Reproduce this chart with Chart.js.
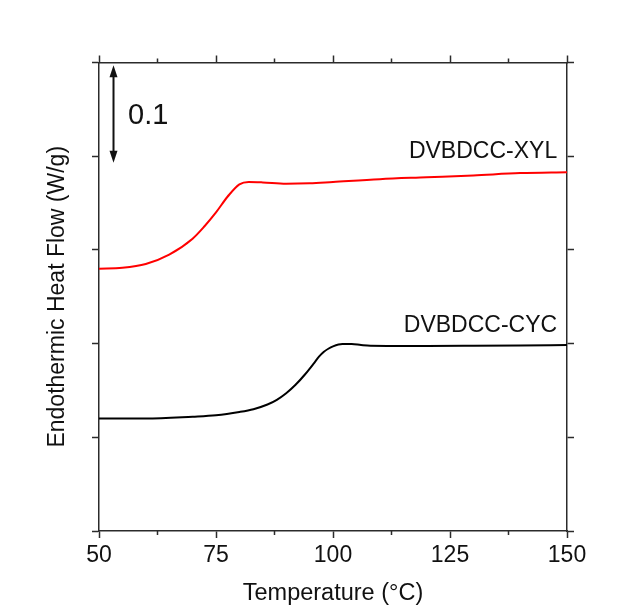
<!DOCTYPE html>
<html>
<head>
<meta charset="utf-8">
<script src="https://cdn.jsdelivr.net/npm/chart.js@4"></script>
<style>
  html, body { margin: 0; padding: 0; background: #fff; }
  #wrap { width: 623px; height: 611px; }
</style>
</head>
<body>
<div id="wrap"><canvas id="dsc"></canvas></div>
<script>
/* ================= DATA ================= */
const xylTemp = [50, 55, 60, 65, 70, 72.5, 75, 77.5, 80, 82, 85, 90, 95, 100, 110, 120, 130, 140, 150];
const xylFlow = [0.280, 0.281, 0.285, 0.295, 0.312, 0.325, 0.340, 0.357, 0.370, 0.3725, 0.372, 0.3705, 0.371, 0.3725, 0.3755, 0.3775, 0.3795, 0.382, 0.383];

const cycTemp = [50, 60, 70, 75, 80, 83, 86, 88, 90, 92, 94, 96, 97, 98, 99, 100, 102, 104, 106, 108, 120, 130, 140, 150];
const cycFlow = [0.120, 0.120, 0.122, 0.1235, 0.127, 0.130, 0.135, 0.140, 0.147, 0.156, 0.167, 0.1795, 0.186, 0.191, 0.1945, 0.197, 0.1995, 0.1995, 0.1985, 0.1978, 0.1975, 0.1977, 0.198, 0.1985];

const xTicks = [50, 75, 100, 125, 150];
const xMinorTicks = [62.5, 87.5, 112.5, 137.5];
const seriesNames = ["DVBDCC-XYL", "DVBDCC-CYC"];

const toPoints = (xs, ys) => xs.map((x, i) => ({ x: x, y: ys[i] }));

/* ================= STYLE ================= */
const FONT = "'Liberation Sans', Arial, sans-serif";
const AXIS = "#2b2b2b";

/* ================= ANNOTATIONS ================= */
// minor ticks on the top and bottom axes + labels + 0.1 scale arrow
const annotate = {
  id: "annotate",
  afterDraw(chart) {
    const ctx = chart.ctx;
    const xs = chart.scales.x;
    const ys = chart.scales.y;
    const area = chart.chartArea;

    ctx.save();
    ctx.strokeStyle = AXIS;
    ctx.lineWidth = 1.5;
    xMinorTicks.forEach(v => {
      const px = xs.getPixelForValue(v);
      ctx.beginPath();
      ctx.moveTo(px, area.bottom);
      ctx.lineTo(px, area.bottom + 4);
      ctx.moveTo(px, area.top);
      ctx.lineTo(px, area.top - 4);
      ctx.stroke();
    });

    // series labels
    ctx.fillStyle = "#111";
    ctx.font = "23px " + FONT;
    ctx.textAlign = "right";
    ctx.textBaseline = "middle";
    ctx.fillText(seriesNames[0], xs.getPixelForValue(147.9), ys.getPixelForValue(0.405));
    ctx.fillText(seriesNames[1], xs.getPixelForValue(147.9), ys.getPixelForValue(0.219));

    // scale bar
    ctx.font = "29px " + FONT;
    ctx.textAlign = "left";
    ctx.fillText("0.1", xs.getPixelForValue(56.2), ys.getPixelForValue(0.443));

    const ax = xs.getPixelForValue(53.1);
    const top = ys.getPixelForValue(0.497);
    const bot = ys.getPixelForValue(0.393);
    ctx.strokeStyle = "#111";
    ctx.fillStyle = "#111";
    ctx.lineWidth = 2;
    ctx.beginPath();
    ctx.moveTo(ax, top + 8);
    ctx.lineTo(ax, bot - 8);
    ctx.stroke();
    ctx.beginPath();
    ctx.moveTo(ax, top);
    ctx.lineTo(ax - 4, top + 12);
    ctx.lineTo(ax + 4, top + 12);
    ctx.closePath();
    ctx.fill();
    ctx.beginPath();
    ctx.moveTo(ax, bot);
    ctx.lineTo(ax - 4, bot - 12);
    ctx.lineTo(ax + 4, bot - 12);
    ctx.closePath();
    ctx.fill();
    ctx.restore();
  }
};

/* ================= CHART ================= */
const frameAxis = (position, size) => ({
  position: position,
  grid: { drawOnChartArea: false, tickLength: 7, tickColor: AXIS, tickWidth: 1.5 },
  border: { color: AXIS, width: 1.5 },
  ticks: { display: false },
  afterFit(scale) {
    if (scale.isHorizontal()) scale.height = size; else scale.width = size;
  }
});

new Chart(document.getElementById("dsc"), {
  type: "line",
  data: {
    datasets: [
      {
        label: seriesNames[0],
        data: toPoints(xylTemp, xylFlow),
        borderColor: "#ff0000",
        borderWidth: 2,
        pointRadius: 0,
        cubicInterpolationMode: "monotone",
        xAxisID: "x",
        yAxisID: "y"
      },
      {
        label: seriesNames[1],
        data: toPoints(cycTemp, cycFlow),
        borderColor: "#000000",
        borderWidth: 2,
        pointRadius: 0,
        cubicInterpolationMode: "monotone",
        xAxisID: "x",
        yAxisID: "y"
      }
    ]
  },
  options: {
    responsive: true,
    maintainAspectRatio: false,
    animation: false,
    layout: { padding: 0 },
    plugins: {
      legend: { display: false },
      tooltip: { enabled: false }
    },
    scales: {
      x: {
        type: "linear",
        position: "bottom",
        min: 50,
        max: 150,
        afterBuildTicks(scale) {
          scale.ticks = xTicks.map(v => ({ value: v }));
        },
        ticks: { color: "#111", font: { family: FONT, size: 23 }, padding: 4, maxRotation: 0 },
        grid: { drawOnChartArea: false, tickLength: 7, tickColor: AXIS, tickWidth: 1.5 },
        border: { color: AXIS, width: 1.5 },
        title: {
          display: true,
          text: "Temperature (°C)",
          color: "#111",
          font: { family: FONT, size: 23.5 },
          padding: { top: 0, bottom: 3 }
        },
        afterFit(scale) { scale.height = 80; }
      },
      x2: Object.assign(frameAxis("top", 62.5), {
        type: "linear",
        min: 50,
        max: 150,
        afterBuildTicks(scale) {
          scale.ticks = xTicks.map(v => ({ value: v }));
        }
      }),
      y: {
        type: "linear",
        position: "left",
        min: 0,
        max: 0.5,
        ticks: { display: false, stepSize: 0.1 },
        grid: { drawOnChartArea: false, tickLength: 7, tickColor: AXIS, tickWidth: 1.5 },
        border: { color: AXIS, width: 1.5 },
        title: {
          display: true,
          text: "Endothermic Heat Flow (W/g)",
          color: "#111",
          font: { family: FONT, size: 23 },
          padding: { top: 44, bottom: 0 }
        },
        afterFit(scale) { scale.width = 99; }
      },
      y2: Object.assign(frameAxis("right", 56), {
        type: "linear",
        min: 0,
        max: 0.5,
        ticks: { display: false, stepSize: 0.1 }
      })
    }
  },
  plugins: [annotate]
});
</script>
</body>
</html>
